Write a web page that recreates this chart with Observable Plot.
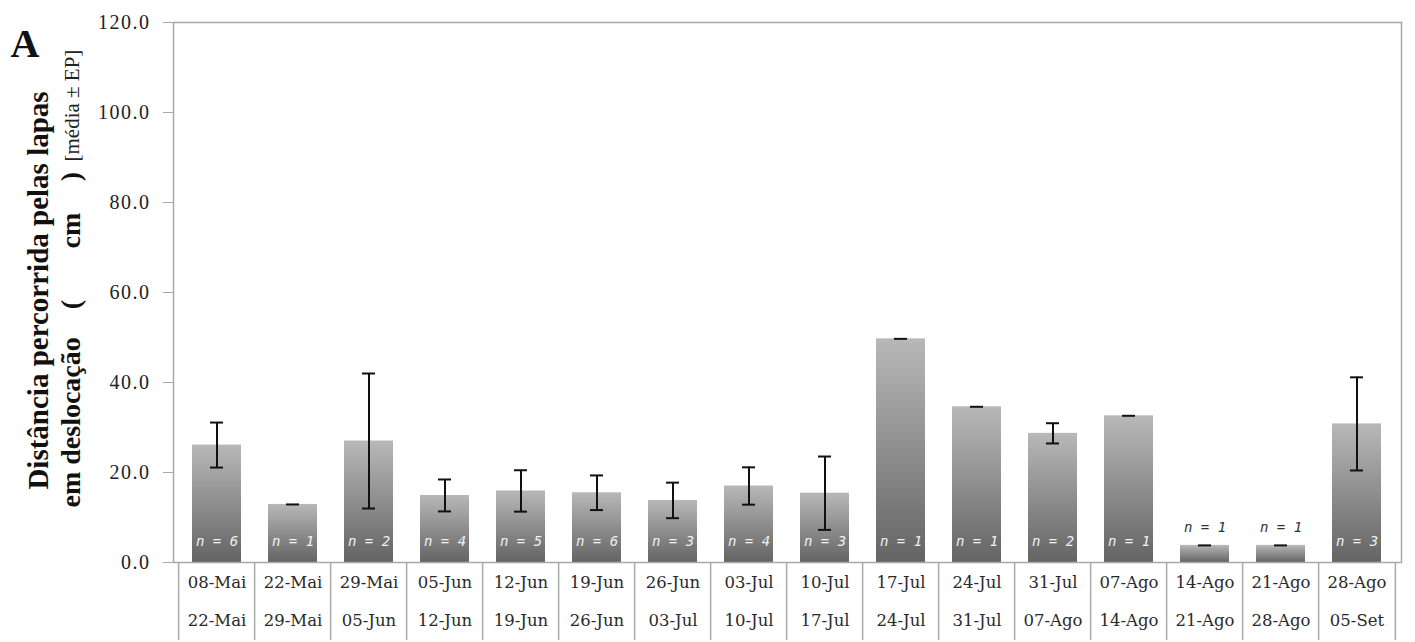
<!DOCTYPE html>
<html><head><meta charset="utf-8">
<script src="https://cdn.jsdelivr.net/npm/d3@7"></script>
<script src="https://cdn.jsdelivr.net/npm/@observablehq/plot@0.6"></script>
<style>body{margin:0;background:#fff}</style>
</head><body><div id="chart"></div>
<script>
// ---- data ----
const periodStart = ["08-Mai","22-Mai","29-Mai","05-Jun","12-Jun","19-Jun","26-Jun","03-Jul","10-Jul","17-Jul","24-Jul","31-Jul","07-Ago","14-Ago","21-Ago","28-Ago"];
const periodEnd   = ["22-Mai","29-Mai","05-Jun","12-Jun","19-Jun","26-Jun","03-Jul","10-Jul","17-Jul","24-Jul","31-Jul","07-Ago","14-Ago","21-Ago","28-Ago","05-Set"];
const meanDist = [26.1, 12.9, 27.0, 14.9, 15.9, 15.5, 13.8, 17.0, 15.4, 49.7, 34.6, 28.7, 32.6, 3.8, 3.8, 30.8];
const seDist   = [5.0, 0, 15.0, 3.55, 4.6, 3.85, 3.95, 4.15, 8.15, 0, 0, 2.25, 0, 0, 0, 10.35];
const nLapas   = [6, 1, 2, 4, 5, 6, 3, 4, 3, 1, 1, 2, 1, 1, 1, 3];
const yTicks   = [0, 20, 40, 60, 80, 100, 120];

const yTitle1 = "Distância percorrida pelas lapas";
const yTitle2a = "em deslocação";
const yTitleOpen = "(", yTitleUnit = "cm", yTitleClose = ")";
const yTitle2c = "[média ± EP]";
const panelLetter = "A";

// ---- layout ----
const W = 1415, H = 642, ML = 173, MR = 14, MT = 22, MB = 80;
const step = (W - ML - MR) / periodStart.length;
const data = periodStart.map((s, i) => ({start: s, end: periodEnd[i], mean: meanDist[i], se: seDist[i], n: nLapas[i]}));
const withErr = data.filter(d => d.se > 0);
const inside = data.filter(d => d.mean >= 8);
const outside = data.filter(d => d.mean < 8);
const gray = "#a9a9a9";
const serif = "Liberation Serif, Times New Roman, serif";
const mono = "DejaVu Sans Mono, monospace";
const titleBold = {frameAnchor: "top-left", rotate: -90, fontWeight: "bold", fontSize: 28, fontFamily: serif, fill: "#111"};

const plot = Plot.plot({
  width: W, height: H,
  marginLeft: ML, marginRight: MR, marginTop: MT, marginBottom: MB,
  style: {background: "#fff", overflow: "visible"},
  x: {domain: periodStart, paddingInner: 0.35, paddingOuter: 0.175, axis: null},
  y: {domain: [0, 120]},
  marks: [
    Plot.barY(data, {x: "start", y: "mean", fill: "url(#barGrad)"}),
    Plot.frame({stroke: gray, strokeWidth: 1.5}),
    // table separators below the axis
    Plot.ruleX(periodStart, {x: d => d, dx: -step / 2, insetTop: H - MT - MB, insetBottom: -(MB - 2), stroke: gray, strokeWidth: 1.5}),
    Plot.ruleX(periodStart.slice(-1), {x: d => d, dx: step / 2, insetTop: H - MT - MB, insetBottom: -(MB - 2), stroke: gray, strokeWidth: 1.5}),
    // error bars
    Plot.ruleX(withErr, {x: "start", y1: d => d.mean - d.se, y2: d => d.mean + d.se, stroke: "#111", strokeWidth: 2}),
    Plot.tickY(data, {x: "start", y: d => d.mean + d.se, stroke: "#111", strokeWidth: 2, insetLeft: 18, insetRight: 18}),
    Plot.tickY(withErr, {x: "start", y: d => d.mean - d.se, stroke: "#111", strokeWidth: 2, insetLeft: 18, insetRight: 18}),
    // n labels
    Plot.text(inside, {x: "start", y: 0, dy: -21, text: d => "n = " + d.n, fill: "#f0f0f0", fontSize: 14, fontStyle: "italic", fontFamily: mono}),
    Plot.text(outside, {x: "start", y: "mean", dy: -18, text: d => "n = " + d.n, fill: "#333", fontSize: 14, fontStyle: "italic", fontFamily: mono}),
    // y axis
    Plot.axisY({ticks: yTicks, tickSize: 10, tickPadding: 13, tickFormat: d => d.toFixed(1), stroke: gray, fill: "#222", fontSize: 20, fontFamily: serif, label: null}),
    // x labels (two rows)
    Plot.text(data, {x: "start", frameAnchor: "bottom", dy: 25, text: "start", fill: "#2a2a2a", fontSize: 16.5, fontFamily: "DejaVu Serif, serif"}),
    Plot.text(data, {x: "start", frameAnchor: "bottom", dy: 63, text: "end", fill: "#2a2a2a", fontSize: 16.5, fontFamily: "DejaVu Serif, serif"}),
    // y title
    Plot.text([yTitle1], {...titleBold, text: d => d, dx: 27 - ML, dy: 290 - MT, textAnchor: "middle", fontSize: 29}),
    Plot.text([yTitle2a], {...titleBold, text: d => d, dx: 60 - ML, dy: 507 - MT, textAnchor: "start"}),
    Plot.text([yTitleOpen], {...titleBold, text: d => d, dx: 60 - ML, dy: 304 - MT, textAnchor: "middle"}),
    Plot.text([yTitleUnit], {...titleBold, ariaLabel: "ytitle-unit", text: d => d, dx: 60 - ML, dy: 230 - MT, textAnchor: "middle"}),
    Plot.text([yTitleClose], {...titleBold, text: d => d, dx: 60 - ML, dy: 176 - MT, textAnchor: "middle"}),
    Plot.text([yTitle2c], {ariaLabel: "ytitle-note", frameAnchor: "top-left", rotate: -90, text: d => d, dx: 64 - ML, dy: 161 - MT, textAnchor: "start", fontSize: 21, fontFamily: serif, fill: "#222"}),
    Plot.text([panelLetter], {frameAnchor: "top-left", text: d => d, dx: 10 - ML, dy: 28 - MT, textAnchor: "start", fontWeight: "bold", fontSize: 40, fontFamily: serif, fill: "#111"})
  ]
});

// gradient definition for the bars
const defs = d3.create("svg:defs");
const grad = defs.append("linearGradient").attr("id", "barGrad").attr("x1", 0).attr("y1", 0).attr("x2", 0).attr("y2", 1);
grad.append("stop").attr("offset", 0).attr("stop-color", "#b8b8b8");
grad.append("stop").attr("offset", 1).attr("stop-color", "#646464");
plot.insertBefore(defs.node(), plot.firstChild);
const sel = d3.select(plot);
sel.selectAll('[aria-label="y-axis tick label"] text').style("letter-spacing", "1.5px");
sel.selectAll('[aria-label="ytitle-unit"] text').style("letter-spacing", "6px");
sel.selectAll('[aria-label="ytitle-note"] text').attr("textLength", 78).attr("lengthAdjust", "spacingAndGlyphs");

document.getElementById("chart").appendChild(plot);
</script>
</body></html>
